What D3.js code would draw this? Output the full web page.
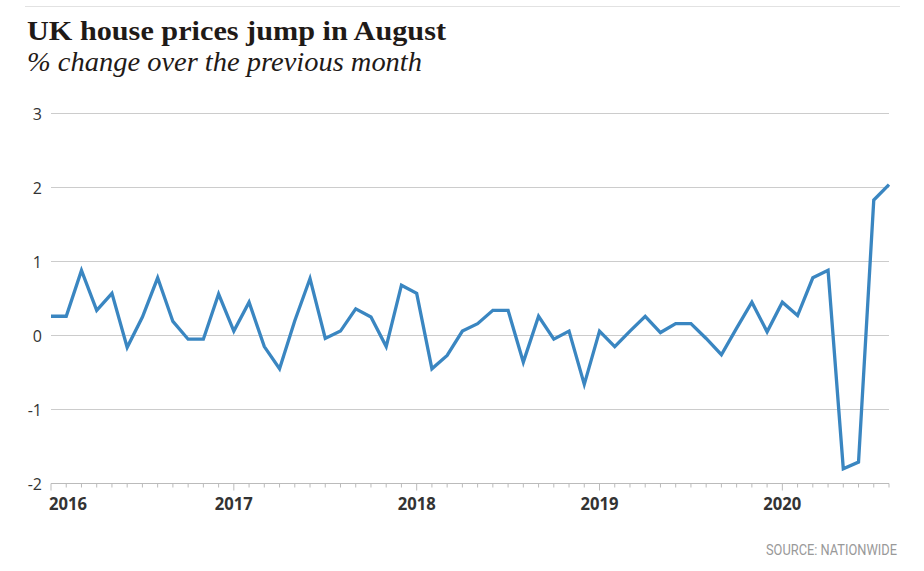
<!DOCTYPE html>
<html>
<head>
<meta charset="utf-8">
<script src="https://cdn.jsdelivr.net/npm/d3@7"></script>
<style>
body { margin: 0; background: #ffffff; }
</style>
</head>
<body>
<script>
// monthly % change, Jan 2016 .. Aug 2020
var months = d3.range(56).map(function (i) { return new Date(2016, i, 1); });
var change = [
	0.26, 0.26, 0.88, 0.34, 0.57, -0.16, 0.25, 0.78, 0.19, -0.05, -0.05, 0.56,
	0.06, 0.45, -0.15, -0.45, 0.20, 0.77, -0.04, 0.06, 0.36, 0.25, -0.15, 0.68,
	0.57, -0.45, -0.27, 0.06, 0.16, 0.34, 0.34, -0.36, 0.26, -0.05, 0.06, -0.66,
	0.06, -0.15, 0.06, 0.26, 0.04, 0.16, 0.16, -0.04, -0.26, 0.10, 0.45, 0.05,
	0.45, 0.27, 0.78, 0.88, -1.80, -1.71, 1.83, 2.04
];
var yTicks = [-2, -1, 0, 1, 2, 3];
var yearTicks = [2016, 2017, 2018, 2019, 2020];

var svg = d3.select("body")
	.append("svg")
	.attr("width", 924)
	.attr("height", 571);

svg.append("line")
	.attr("x1", 25).attr("x2", 900)
	.attr("y1", 6.5).attr("y2", 6.5)
	.attr("stroke", "#e2e2e2")
	.attr("stroke-width", 1);

svg.append("text")
	.attr("x", 27).attr("y", 40)
	.attr("font-family", "Liberation Serif, DejaVu Serif, serif")
	.attr("font-weight", "bold")
	.attr("font-size", 27)
	.attr("fill", "#1f1a17")
	.attr("textLength", 419)
	.attr("lengthAdjust", "spacingAndGlyphs")
	.text("UK house prices jump in August");

svg.append("text")
	.attr("x", 27).attr("y", 71)
	.attr("font-family", "Liberation Serif, DejaVu Serif, serif")
	.attr("font-style", "italic")
	.attr("font-size", 28)
	.attr("fill", "#1f1a17")
	.attr("textLength", 395)
	.attr("lengthAdjust", "spacingAndGlyphs")
	.text("% change over the previous month");

var x = d3.scaleLinear()
	.domain([0, months.length - 1])
	.range([51, 889]);
var y = d3.scaleLinear()
	.domain([-2, 3])
	.range([483.5, 113.5]);

// grid
svg.append("g")
	.selectAll("line")
	.data(yTicks.filter(function (d) { return d > -2; }))
	.join("line")
	.attr("x1", 51).attr("x2", 889)
	.attr("y1", function (d) { return y(d); })
	.attr("y2", function (d) { return y(d); })
	.attr("stroke", "#cccccc")
	.attr("stroke-width", 1.2);

svg.append("g")
	.selectAll("text")
	.data(yTicks)
	.join("text")
	.attr("x", 42)
	.attr("y", function (d) { return y(d) + 6; })
	.attr("text-anchor", "end")
	.attr("font-family", "Open Sans, Liberation Sans, sans-serif")
	.attr("font-size", 16)
	.attr("fill", "#333333")
	.text(function (d) { return d; });

// x axis
var axisG = svg.append("g")
	.attr("transform", "translate(0," + y(-2) + ")");
axisG.append("line")
	.attr("x1", 51).attr("x2", 889)
	.attr("stroke", "#bbbbbb")
	.attr("stroke-width", 1.2);
axisG.selectAll("line.tick")
	.data(d3.range(months.length))
	.join("line")
	.attr("class", "tick")
	.attr("x1", function (d) { return x(d); })
	.attr("x2", function (d) { return x(d); })
	.attr("y1", 0)
	.attr("y2", function (d) { return d % 12 === 0 ? 7 : 4; })
	.attr("stroke", "#bbbbbb")
	.attr("stroke-width", 1);
axisG.selectAll("text")
	.data(yearTicks)
	.join("text")
	.attr("x", function (d, i) { return i === 0 ? x(0) - 2 : x(i * 12); })
	.attr("y", 26)
	.attr("text-anchor", function (d, i) { return i === 0 ? "start" : "middle"; })
	.attr("font-family", "Open Sans, Liberation Sans, sans-serif")
	.attr("font-weight", "bold")
	.attr("font-size", 17.5)
	.attr("fill", "#333333")
	.attr("textLength", 38)
	.attr("lengthAdjust", "spacingAndGlyphs")
	.text(function (d) { return d; });

// line
var line = d3.line()
	.x(function (d, i) { return x(i); })
	.y(function (d) { return y(d); });
svg.append("path")
	.datum(change)
	.attr("d", line)
	.attr("fill", "none")
	.attr("stroke", "#3a86c1")
	.attr("stroke-width", 3.3)
	.attr("stroke-linejoin", "miter");

svg.append("text")
	.attr("x", 897).attr("y", 555)
	.attr("text-anchor", "end")
	.attr("font-family", "Roboto, Liberation Sans, sans-serif")
	.attr("font-size", 15.5)
	.attr("fill", "#999999")
	.attr("textLength", 131)
	.attr("lengthAdjust", "spacingAndGlyphs")
	.text("SOURCE: NATIONWIDE");
</script>
</body>
</html>
